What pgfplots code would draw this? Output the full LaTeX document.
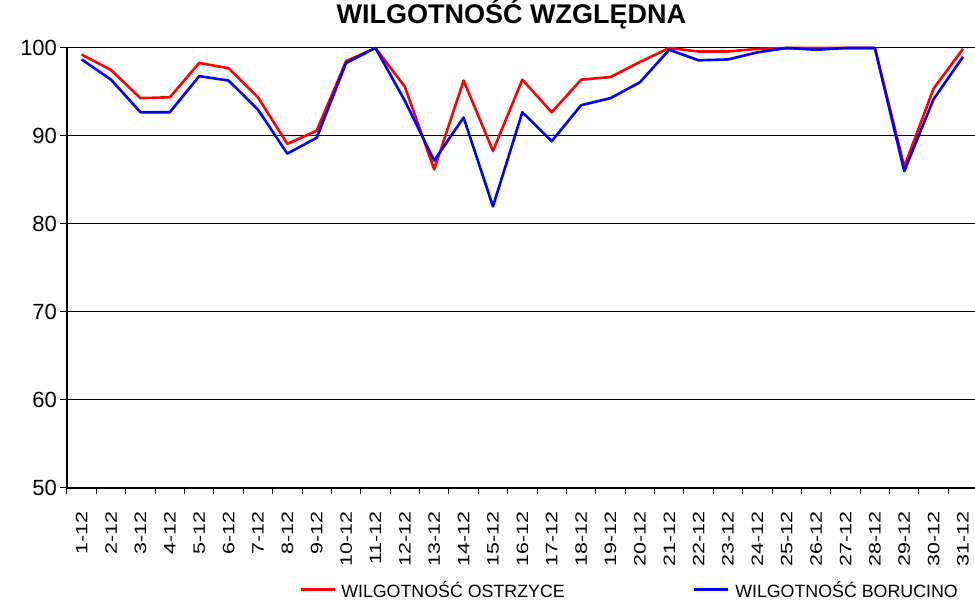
\documentclass[border=0pt]{standalone}
\usepackage{fontspec}
\setmainfont{Liberation Sans}
\usepackage{graphicx}
\usepackage{pgfplots}
\pgfplotsset{compat=1.18}
\newcommand{\lbl}[1]{\scalebox{1.3}[1]{\fontsize{16.5}{19}\selectfont #1}}
\begin{document}
\begin{tikzpicture}
\begin{axis}[
  at={(67pt,114pt)}, anchor=south west,
  scale only axis, width=910.7pt, height=440pt,
  xmin=-0.5, xmax=30.5, ymin=50, ymax=100,
  axis lines*=left,
  axis line style={line width=1.3pt, black},
  clip=false,
  ytick={50,60,...,100},
  ymajorgrids, major grid style={black, line width=1pt},
  xtick={-0.5,0.5,...,30.5},
  xticklabels={},
  extra x ticks={0,1,...,30},
  extra x tick labels={\lbl{1-12},\lbl{2-12},\lbl{3-12},\lbl{4-12},\lbl{5-12},\lbl{6-12},\lbl{7-12},\lbl{8-12},\lbl{9-12},\lbl{10-12},\lbl{11-12},\lbl{12-12},\lbl{13-12},\lbl{14-12},\lbl{15-12},\lbl{16-12},\lbl{17-12},\lbl{18-12},\lbl{19-12},\lbl{20-12},\lbl{21-12},\lbl{22-12},\lbl{23-12},\lbl{24-12},\lbl{25-12},\lbl{26-12},\lbl{27-12},\lbl{28-12},\lbl{29-12},\lbl{30-12},\lbl{31-12}},
  extra x tick style={major tick length=0pt, xticklabel style={rotate=90, anchor=east, xshift=-20pt}},
  tick align=outside,
  major tick length=6.5pt,
  tick style={black, line width=1pt},
  /pgf/number format/assume math mode=true,
  yticklabel style={font=\fontsize{22}{26}\selectfont},
  title={WILGOTNOŚĆ WZGLĘDNA},
  title style={font=\bfseries\fontsize{27}{32}\selectfont, at={(0.488,1)}, anchor=base, yshift=18pt},
  legend columns=2,
  legend style={at={(0.2548,-0.2318)}, anchor=west, draw=none, fill=none, inner sep=0pt, column sep=0pt, font=\fontsize{17.8}{21}\selectfont, nodes={inner xsep=0pt}},
  legend image code/.code={\draw[#1, line width=3pt] (0pt,0pt) -- (34pt,0pt);},
]
\addplot[red, line width=2.6pt, line join=round] coordinates {
(0,99.25) (1,97.5) (2,94.3) (3,94.4) (4,98.3) (5,97.7) (6,94.4) (7,89.1) (8,90.6) (9,98.5)
(10,100) (11,95.6) (12,86.2) (13,96.3) (14,88.3) (15,96.4) (16,92.7) (17,96.4) (18,96.7) (19,98.4)
(20,100) (21,99.6) (22,99.6) (23,99.9) (24,100) (25,100) (26,100) (27,100) (28,86.5) (29,95.4) (30,99.9)};
\addplot[blue, line width=2.6pt, line join=round] coordinates {
(0,98.7) (1,96.4) (2,92.7) (3,92.7) (4,96.8) (5,96.3) (6,93.0) (7,88.0) (8,89.8) (9,98.3)
(10,100) (11,94.0) (12,87.2) (13,92.1) (14,82.0) (15,92.7) (16,89.4) (17,93.5) (18,94.3) (19,96.1)
(20,99.8) (21,98.6) (22,98.7) (23,99.5) (24,100) (25,99.8) (26,100) (27,100) (28,86.0) (29,94.2) (30,99.0)};
\legend{\makebox[356pt][l]{\hspace*{5pt}WILGOTNOŚĆ OSTRZYCE},\hspace*{6pt}WILGOTNOŚĆ BORUCINO}
\end{axis}
\pgfresetboundingbox
\useasboundingbox (0,0) rectangle (975pt,602pt);
\end{tikzpicture}
\end{document}
